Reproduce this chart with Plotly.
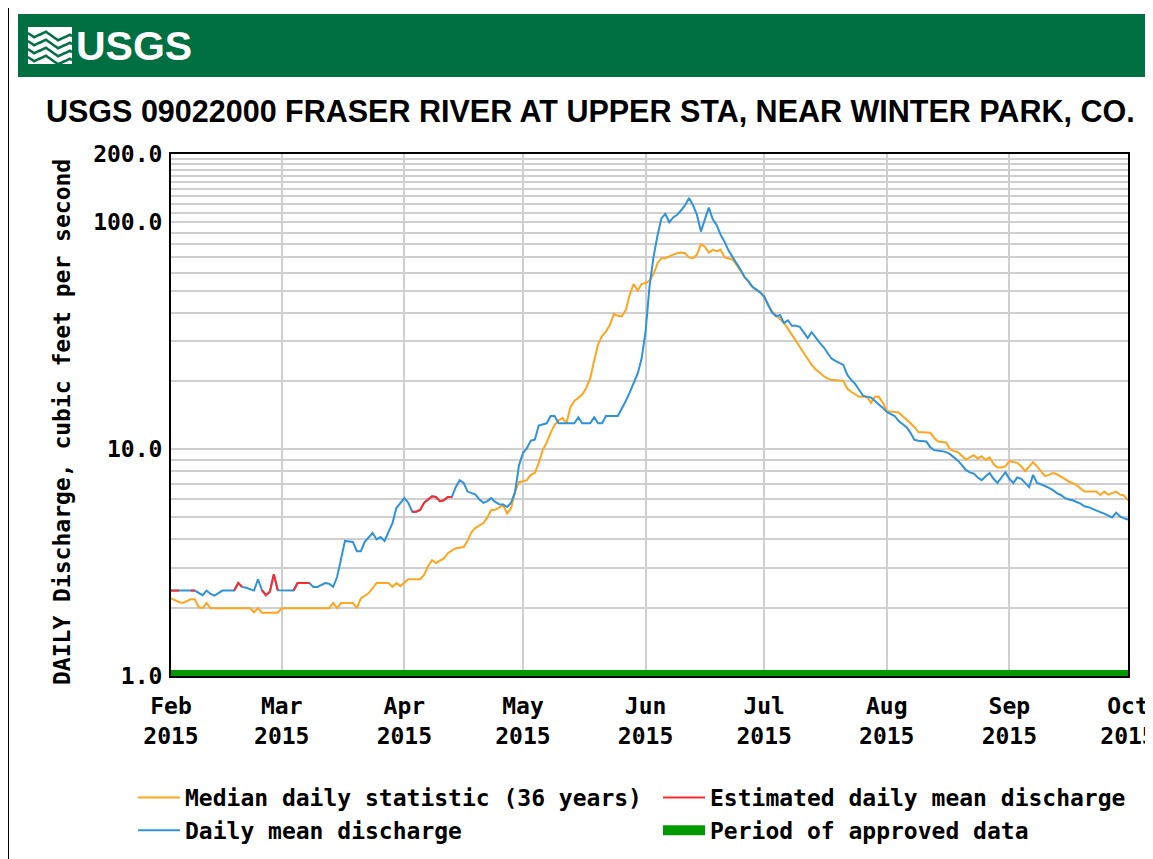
import plotly.graph_objects as go

# ---------------- data ----------------
median_dates = ["2015-02-01","2015-02-03","2015-02-04","2015-02-06","2015-02-07","2015-02-08","2015-02-09","2015-02-10","2015-02-11","2015-02-21","2015-02-22","2015-02-23","2015-02-24","2015-02-28",
"2015-03-01","2015-03-13","2015-03-14","2015-03-15","2015-03-16","2015-03-19","2015-03-20","2015-03-21","2015-03-23","2015-03-24","2015-03-25","2015-03-28","2015-03-29","2015-03-30","2015-03-31",
"2015-04-02","2015-04-05","2015-04-06","2015-04-07","2015-04-08","2015-04-09","2015-04-11","2015-04-12","2015-04-14","2015-04-16","2015-04-17","2015-04-18","2015-04-19","2015-04-21","2015-04-22","2015-04-23","2015-04-24","2015-04-26","2015-04-27","2015-04-28","2015-04-29","2015-04-30",
"2015-05-02","2015-05-03","2015-05-04","2015-05-05","2015-05-06","2015-05-07","2015-05-08","2015-05-09","2015-05-10","2015-05-11","2015-05-12","2015-05-13","2015-05-14","2015-05-15","2015-05-16","2015-05-17","2015-05-18","2015-05-19","2015-05-20","2015-05-21","2015-05-22","2015-05-23","2015-05-24","2015-05-25","2015-05-26","2015-05-27","2015-05-28","2015-05-29","2015-05-30","2015-05-31",
"2015-06-01","2015-06-02","2015-06-03","2015-06-04","2015-06-05","2015-06-06","2015-06-07","2015-06-08","2015-06-09","2015-06-10","2015-06-11","2015-06-12","2015-06-13","2015-06-14","2015-06-15","2015-06-16","2015-06-17","2015-06-18","2015-06-19","2015-06-20","2015-06-21","2015-06-22","2015-06-23","2015-06-24","2015-06-25","2015-06-26","2015-06-27","2015-06-28","2015-06-29","2015-06-30",
"2015-07-01","2015-07-02","2015-07-03","2015-07-04","2015-07-05","2015-07-06","2015-07-07","2015-07-08","2015-07-09","2015-07-10","2015-07-11","2015-07-12","2015-07-13","2015-07-14","2015-07-15","2015-07-16","2015-07-17","2015-07-18","2015-07-21","2015-07-22","2015-07-23","2015-07-24","2015-07-25","2015-07-27","2015-07-28","2015-07-29","2015-07-30","2015-07-31",
"2015-08-01","2015-08-04","2015-08-05","2015-08-06","2015-08-07","2015-08-08","2015-08-09","2015-08-12","2015-08-13","2015-08-14","2015-08-16","2015-08-17","2015-08-18","2015-08-19","2015-08-20","2015-08-21","2015-08-22","2015-08-23","2015-08-24","2015-08-25","2015-08-26","2015-08-27","2015-08-28","2015-08-29","2015-08-30","2015-08-31",
"2015-09-01","2015-09-02","2015-09-03","2015-09-04","2015-09-05","2015-09-06","2015-09-07","2015-09-08","2015-09-09","2015-09-10","2015-09-11","2015-09-12","2015-09-13","2015-09-14","2015-09-15","2015-09-16","2015-09-17","2015-09-18","2015-09-19","2015-09-20","2015-09-23","2015-09-24","2015-09-25","2015-09-26","2015-09-27","2015-09-28","2015-09-29","2015-09-30","2015-10-01"]
median_values = [2.20,2.12,2.10,2.18,2.18,2.01,1.99,2.10,1.99,1.99,1.91,1.99,1.90,1.90,
1.99,1.99,2.10,1.99,2.10,2.10,1.99,2.20,2.32,2.44,2.57,2.57,2.47,2.57,2.49,
2.67,2.67,2.79,3.05,3.24,3.15,3.30,3.48,3.66,3.70,3.95,4.31,4.50,4.72,5.00,5.39,5.40,5.67,5.20,5.50,6.50,7.15,
7.30,7.70,7.85,8.70,9.90,10.7,11.8,12.8,13.4,13.7,13.0,15.3,16.3,16.8,17.4,18.6,20.5,24.5,29.0,31.5,33.0,35.3,39.5,38.7,38.5,41.0,48.0,53.4,50.0,53.4,
54.0,55.4,59.0,65.8,69.5,69.5,71.0,72.0,73.0,73.5,73.0,70.0,69.5,72.0,80.0,78.0,73.5,75.6,74.5,75.6,70.0,69.5,68.5,65.0,61.0,57.5,55.0,52.0,50.5,49.0,
47.0,43.0,40.5,39.0,37.5,36.0,34.0,32.0,30.0,28.2,26.5,25.0,23.5,22.5,21.7,21.0,20.5,20.2,20.0,18.5,17.9,17.5,17.0,17.0,16.0,17.0,17.0,16.0,
14.7,14.5,14.0,13.6,13.0,12.5,11.9,11.8,11.2,10.8,10.7,10.0,9.8,9.7,9.3,9.0,9.2,9.4,9.1,9.3,8.96,9.2,8.6,8.3,8.3,8.4,
8.85,8.8,8.7,8.4,8.0,8.4,8.75,8.4,8.0,7.6,7.7,7.85,7.75,7.6,7.4,7.2,7.1,6.95,6.7,6.5,6.5,6.28,6.5,6.3,6.4,6.5,6.3,6.25,5.95]

daily_dates = ["2015-02-01","2015-02-03","2015-02-06","2015-02-07","2015-02-09","2015-02-10","2015-02-11","2015-02-12","2015-02-14","2015-02-17","2015-02-18","2015-02-19","2015-02-20","2015-02-22","2015-02-23","2015-02-24","2015-02-25","2015-02-26","2015-02-27","2015-02-28",
"2015-03-04","2015-03-05","2015-03-08","2015-03-09","2015-03-10","2015-03-12","2015-03-13","2015-03-14","2015-03-15","2015-03-16","2015-03-17","2015-03-19","2015-03-20","2015-03-21","2015-03-22","2015-03-24","2015-03-25","2015-03-26","2015-03-27","2015-03-29","2015-03-30",
"2015-04-01","2015-04-02","2015-04-03","2015-04-04","2015-04-05","2015-04-06","2015-04-07","2015-04-08","2015-04-09","2015-04-10","2015-04-11","2015-04-12","2015-04-13","2015-04-14","2015-04-15","2015-04-16","2015-04-17","2015-04-18","2015-04-19","2015-04-20","2015-04-21","2015-04-22","2015-04-23","2015-04-24","2015-04-25","2015-04-26","2015-04-27","2015-04-28","2015-04-29","2015-04-30",
"2015-05-01","2015-05-02","2015-05-03","2015-05-04","2015-05-05","2015-05-07","2015-05-08","2015-05-09","2015-05-10","2015-05-14","2015-05-15","2015-05-16","2015-05-18","2015-05-19","2015-05-20","2015-05-21","2015-05-22","2015-05-25","2015-05-26","2015-05-27","2015-05-28","2015-05-29","2015-05-30","2015-05-31",
"2015-06-01","2015-06-02","2015-06-03","2015-06-04","2015-06-05","2015-06-06","2015-06-07","2015-06-08","2015-06-09","2015-06-10","2015-06-11","2015-06-12","2015-06-13","2015-06-14","2015-06-15","2015-06-16","2015-06-17","2015-06-18","2015-06-19","2015-06-20","2015-06-21","2015-06-22","2015-06-23","2015-06-24","2015-06-25","2015-06-26","2015-06-27","2015-06-28","2015-06-29","2015-06-30",
"2015-07-01","2015-07-02","2015-07-03","2015-07-04","2015-07-05","2015-07-06","2015-07-07","2015-07-08","2015-07-09","2015-07-10","2015-07-11","2015-07-12","2015-07-13","2015-07-14","2015-07-15","2015-07-16","2015-07-17","2015-07-18","2015-07-19","2015-07-20","2015-07-21","2015-07-22","2015-07-23","2015-07-24","2015-07-25","2015-07-26","2015-07-27","2015-07-28","2015-07-29","2015-07-30","2015-07-31",
"2015-08-01","2015-08-02","2015-08-03","2015-08-04","2015-08-05","2015-08-06","2015-08-07","2015-08-08","2015-08-09","2015-08-11","2015-08-12","2015-08-13","2015-08-15","2015-08-16","2015-08-17","2015-08-18","2015-08-19","2015-08-20","2015-08-21","2015-08-22","2015-08-23","2015-08-24","2015-08-25","2015-08-26","2015-08-27","2015-08-28","2015-08-29","2015-08-30","2015-08-31",
"2015-09-01","2015-09-02","2015-09-03","2015-09-04","2015-09-05","2015-09-06","2015-09-07","2015-09-08","2015-09-09","2015-09-10","2015-09-11","2015-09-12","2015-09-13","2015-09-14","2015-09-15","2015-09-16","2015-09-17","2015-09-18","2015-09-19","2015-09-20","2015-09-21","2015-09-22","2015-09-23","2015-09-24","2015-09-25","2015-09-26","2015-09-27","2015-09-28","2015-09-29","2015-09-30","2015-10-01"]
daily_values = [2.38,2.38,2.38,2.38,2.27,2.38,2.30,2.26,2.38,2.38,2.57,2.47,2.45,2.38,2.67,2.39,2.27,2.35,2.81,2.39,
2.38,2.57,2.57,2.47,2.47,2.57,2.55,2.47,2.73,3.24,3.94,3.90,3.55,3.55,3.90,4.27,4.00,4.10,3.94,4.72,5.50,
6.08,5.80,5.30,5.30,5.39,5.80,6.00,6.20,6.15,5.90,5.95,6.15,6.15,6.80,7.30,7.10,6.50,6.40,6.30,6.00,5.80,5.90,6.08,5.85,5.72,5.70,5.56,5.80,6.46,8.50,
9.60,10.1,10.9,11.0,12.7,13.0,14.0,14.0,13.0,13.0,13.8,13.0,13.0,13.8,13.0,13.0,14.0,14.0,15.0,16.3,17.8,19.5,21.5,25.0,
33.0,52.0,70.0,87.0,104.0,109.0,100.0,105.0,108.0,113.0,119.0,128.0,119.0,108.0,91.0,103.0,116.0,103.0,97.0,88.0,82.0,75.0,70.0,66.0,62.0,57.5,55.0,52.0,50.5,49.0,
47.0,43.5,40.0,38.5,39.0,36.0,37.0,35.0,35.0,34.6,32.5,30.9,32.8,31.0,29.5,28.2,26.5,25.1,24.5,24.0,23.5,21.3,20.2,19.4,18.3,17.2,17.0,16.9,16.3,15.8,15.2,
14.6,14.3,14.0,13.3,12.9,12.5,11.8,11.0,10.9,10.8,10.2,9.9,9.8,9.7,9.5,9.2,8.9,8.5,8.1,7.9,7.8,7.5,7.3,7.6,7.85,7.4,7.1,7.5,7.9,
7.4,7.1,7.5,7.4,7.1,6.8,7.7,7.1,7.0,6.9,6.75,6.6,6.4,6.28,6.1,6.0,5.95,5.85,5.75,5.6,5.55,5.45,5.35,5.28,5.2,5.1,5.0,5.25,5.05,4.95,4.9]

estimated_dates = ["2015-02-01","2015-02-03",None,"2015-02-06","2015-02-07",None,"2015-02-17","2015-02-18","2015-02-19",None,
"2015-02-24","2015-02-25","2015-02-26","2015-02-27","2015-02-28",None,"2015-03-04","2015-03-05","2015-03-08",None,
"2015-04-03","2015-04-04","2015-04-05","2015-04-06","2015-04-07","2015-04-08","2015-04-09","2015-04-10","2015-04-11","2015-04-12","2015-04-13"]
estimated_values = [2.38,2.38,None,2.38,2.38,None,2.38,2.57,2.47,None,
2.39,2.27,2.35,2.81,2.39,None,2.38,2.57,2.57,None,
5.30,5.30,5.39,5.80,6.00,6.20,6.15,5.90,5.95,6.15,6.15]

approved_dates = ["2015-02-01", "2015-10-01"]
approved_level = [1.0, 1.0]

month_ticks = ["2015-02-01","2015-03-01","2015-04-01","2015-05-01","2015-06-01","2015-07-01","2015-08-01","2015-09-01","2015-10-01"]
month_labels = ["Feb<br>2015","Mar<br>2015","Apr<br>2015","May<br>2015","Jun<br>2015","Jul<br>2015","Aug<br>2015","Sep<br>2015","Oct<br>2015"]
y_tickvals = [1, 10, 100, 200]
y_ticktext = ["1.0", "10.0", "100.0", "200.0"]
y_minor = [2,3,4,5,6,7,8,9,20,30,40,50,60,70,80,90,110,120,130,140,150,160,170,180,190]

title_text = "USGS 09022000 FRASER RIVER AT UPPER STA, NEAR WINTER PARK, CO."
ytitle_text = "DAILY Discharge, cubic feet per second"

# ---------------- layout helpers ----------------
# target pixel positions (screen); the page body adds an 8px offset
OFF = 8
W, H = 1153 - OFF, 859 - OFF
L, R, T, B = 171, 1128, 154, 676
def px(xp): return (xp - L) / (R - L)
def py(yp): return (B - yp) / (B - T)

MONO = "DejaVu Sans Mono"
SANS = "Liberation Sans, Arial, sans-serif"
ORANGE = "#FFA51F"
BLUE = "#2E93D9"
RED = "#FF2B2B"
GREEN = "#009A00"
GRID = "#CFCFCF"
USGS_GREEN = "#006F41"

fig = go.Figure()
fig.add_trace(go.Scatter(x=median_dates, y=median_values, mode="lines",
                         line=dict(color=ORANGE, width=2), name="Median daily statistic (36 years)",
                         legend="legend"))
fig.add_trace(go.Scatter(x=daily_dates, y=daily_values, mode="lines",
                         line=dict(color=BLUE, width=2), name="Daily mean discharge",
                         legend="legend"))
fig.add_trace(go.Scatter(x=estimated_dates, y=estimated_values, mode="lines",
                         line=dict(color=RED, width=2), name="Estimated daily mean discharge",
                         connectgaps=False, legend="legend2"))
fig.add_trace(go.Scatter(x=approved_dates, y=approved_level, mode="lines",
                         line=dict(color=GREEN, width=12), name="Period of approved data",
                         legend="legend2"))

legend_font = dict(family=MONO, size=23, color="black", weight="bold")

shapes = [
    dict(type="rect", xref="paper", yref="paper", x0=px(8), x1=px(1180), y0=py(900), y1=py(4),
         line=dict(color="black", width=2), fillcolor="rgba(0,0,0,0)", layer="below"),
    dict(type="rect", xref="paper", yref="paper", x0=px(18), x1=px(1180), y0=py(77), y1=py(14),
         line=dict(width=0), fillcolor=USGS_GREEN, layer="below"),
    dict(type="rect", xref="paper", yref="paper", x0=px(28), x1=px(72), y0=py(64), y1=py(27),
         line=dict(width=0), fillcolor="white", layer="above"),
]
for y0 in [33, 41, 49, 57]:
    pts = []
    for i in range(0, 23):
        xx = 28 + i * 2
        yy = y0 + (3.5 if (i // 6) % 2 == 0 else -3.5) * (1 - abs((i % 6) - 3) / 3.0) + i * 0.25
        pts.append((px(xx), py(yy)))
    path = "M " + " L ".join(f"{a:.5f},{b:.5f}" for a, b in pts)
    shapes.append(dict(type="path", xref="paper", yref="paper", path=path,
                       line=dict(color=USGS_GREEN, width=2.5), layer="above"))

annotations = [
    dict(text="USGS", xref="paper", yref="paper", x=px(74), y=py(46), xanchor="left", yanchor="middle",
         showarrow=False, font=dict(family=SANS, size=41, color="white", weight="bold")),
    dict(text=title_text, xref="paper", yref="paper", x=px(44), y=py(111), xanchor="left", yanchor="middle",
         showarrow=False, font=dict(family=SANS, size=30.5, color="black", weight="bold")),
    dict(text=ytitle_text, xref="paper", yref="paper", x=px(62), y=py(422), xanchor="center", yanchor="middle",
         textangle=-90, showarrow=False, font=dict(family=MONO, size=23, color="black", weight="bold")),
]

fig.update_layout(
    width=W, height=H,
    margin=dict(l=L - OFF, r=W - (R - OFF), t=T - OFF, b=H - (B - OFF), pad=0, autoexpand=False),
    paper_bgcolor="white", plot_bgcolor="white",
    showlegend=True,
    legend=dict(orientation="v", x=px(133), xanchor="left", y=py(776), yanchor="top",
                font=legend_font, bgcolor="rgba(0,0,0,0)", itemwidth=42, tracegroupgap=0),
    legend2=dict(orientation="v", x=px(658), xanchor="left", y=py(776), yanchor="top",
                 font=legend_font, bgcolor="rgba(0,0,0,0)", itemwidth=42, tracegroupgap=0),
    shapes=shapes,
    annotations=annotations,
)

fig.update_xaxes(
    type="date", range=["2015-02-01", "2015-10-01"], automargin=False,
    tickmode="array", tickvals=month_ticks, ticktext=month_labels, tickangle=0,
    ticks="", ticklabelstandoff=8, ticklabeloverflow="allow",
    showgrid=True, gridcolor=GRID, gridwidth=2,
    showline=True, linecolor="black", linewidth=2, mirror=True,
    tickfont=dict(family=MONO, size=23, color="black", weight="bold"),
    zeroline=False,
)
fig.update_yaxes(
    type="log", range=[0, 2.30103], automargin=False,
    tickmode="array", tickvals=y_tickvals, ticktext=y_ticktext,
    ticks="", ticklabelstandoff=2,
    showgrid=True, gridcolor=GRID, gridwidth=2,
    minor=dict(tickmode="array", tickvals=y_minor, showgrid=True, gridcolor=GRID, gridwidth=2, ticks=""),
    showline=True, linecolor="black", linewidth=2, mirror=True,
    tickfont=dict(family=MONO, size=23, color="black", weight="bold"),
    zeroline=False,
)

fig.write_html("out.html")
